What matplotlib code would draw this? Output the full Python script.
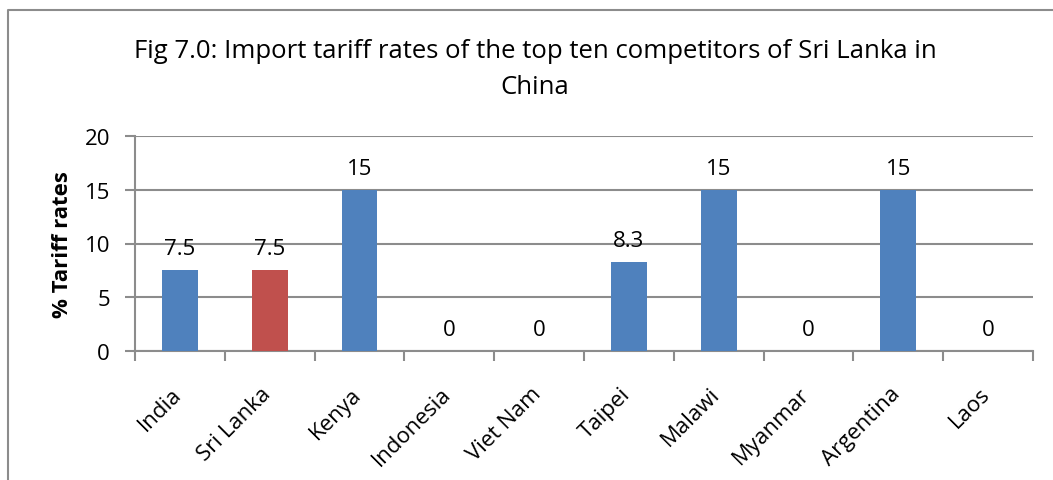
import matplotlib.pyplot as plt
import matplotlib.transforms as mtransforms
from matplotlib.lines import Line2D

countries = ["India", "Sri Lanka", "Kenya", "Indonesia", "Viet Nam",
             "Taipei", "Malawi", "Myanmar", "Argentina", "Laos"]
tariffs = [7.5, 7.5, 15, 0, 0, 8.3, 15, 0, 15, 0]
labels = ["7.5", "7.5", "15", "0", "0", "8.3", "15", "0", "15", "0"]
bar_colors = ["#4F81BD", "#C0504D", "#4F81BD", "#4F81BD", "#4F81BD",
              "#4F81BD", "#4F81BD", "#4F81BD", "#4F81BD", "#4F81BD"]

plt.rcParams["font.family"] = ["Open Sans", "DejaVu Sans"]
grid_col = "#8C8C8C"

W, H = 1053, 481
fig = plt.figure(figsize=(W / 100, H / 100), dpi=100)
# chart frame: top and left edges only
fig.lines.append(Line2D([8 / W, 8 / W, 1.0], [0.0, 1 - 11 / H, 1 - 11 / H],
                        transform=fig.transFigure, color=grid_col, linewidth=1.5))

ax = fig.add_axes([135 / W, 1 - 352 / H, (1033 - 135) / W, (352 - 137) / H])
x = list(range(len(countries)))
ax.bar(x, tariffs, width=0.4, color=bar_colors, zorder=3)
for xi, v, lab in zip(x, tariffs, labels):
    ax.annotate(lab, (xi, v), xytext=(0, 8), textcoords="offset points",
                ha="center", va="bottom", fontsize=16)

ax.set_xlim(-0.5, len(countries) - 0.5)
ax.set_ylim(0, 20)
ax.set_yticks([0, 5, 10, 15, 20])
ax.yaxis.grid(True, color=grid_col, linewidth=1.5, zorder=0)
ax.set_axisbelow(True)

ax.set_xticks([i - 0.5 for i in range(len(countries) + 1)], minor=False)
ax.set_xticklabels([])
ax.set_xticks(x, minor=True)
ax.set_xticklabels(countries, minor=True, rotation=45, ha="right",
                   rotation_mode="anchor", fontsize=16)
ax.tick_params(axis="x", which="major", length=7, width=1.5, color=grid_col)
ax.tick_params(axis="x", which="minor", length=0, pad=23)
ax.tick_params(axis="y", length=7, width=1.5, color=grid_col, labelsize=16, pad=11)

# nudge rotated category labels so their ends sit under the bar centres
shift = mtransforms.ScaledTranslation(-9 / 100, 0, fig.dpi_scale_trans)
for lbl in ax.get_xticklabels(minor=True):
    lbl.set_transform(lbl.get_transform() + shift)

for side in ["top", "right"]:
    ax.spines[side].set_visible(False)
for side in ["left", "bottom"]:
    ax.spines[side].set_color(grid_col)
    ax.spines[side].set_linewidth(1.5)

ax.set_ylabel("% Tariff rates", fontsize=16, fontweight="bold", labelpad=8)

fig.text(535 / W, 1 - 52 / H, "Fig 7.0: Import tariff rates of the top ten competitors of Sri Lanka in",
         ha="center", va="center", fontsize=18.5)
fig.text(535 / W, 1 - 87 / H, "China", ha="center", va="center", fontsize=18.5)

fig.savefig("out.png", dpi=100)
